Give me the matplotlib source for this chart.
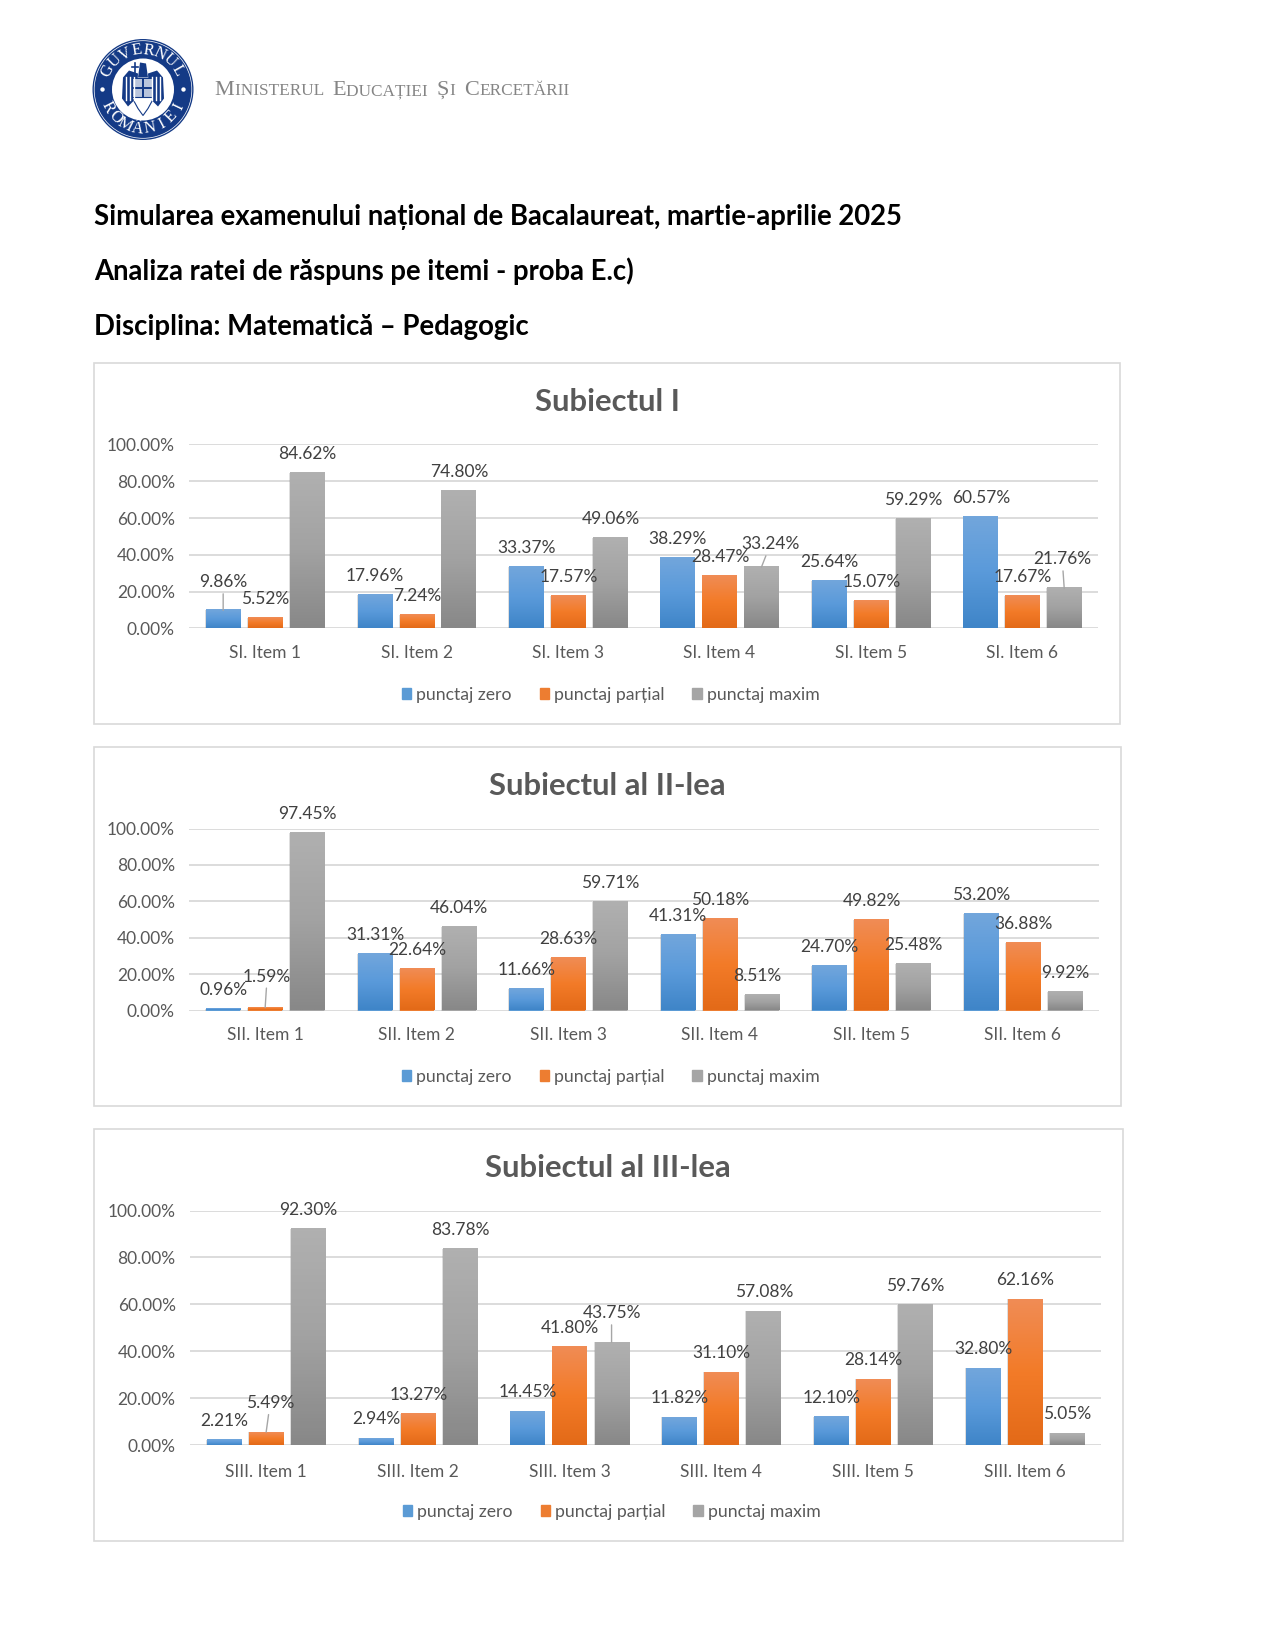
import numpy as np
import matplotlib
matplotlib.use("Agg")
import matplotlib.pyplot as plt
from matplotlib.colors import LinearSegmentedColormap
from matplotlib.patches import Circle, Polygon, Rectangle, Patch

plt.rcParams['font.family'] = ['Lato', 'Noto Sans', 'DejaVu Sans']

HEADINGS = ["Simularea examenului național de Bacalaureat, martie-aprilie 2025",
            "Analiza ratei de răspuns pe itemi - proba E.c)",
            "Disciplina: Matematică – Pedagogic"]
SERIES = ["punctaj zero", "punctaj parțial", "punctaj maxim"]

# Subiectul I
s1_items = ["SI. Item 1", "SI. Item 2", "SI. Item 3", "SI. Item 4", "SI. Item 5", "SI. Item 6"]
s1_zero = [9.86, 17.96, 33.37, 38.29, 25.64, 60.57]
s1_partial = [5.52, 7.24, 17.57, 28.47, 15.07, 17.67]
s1_max = [84.62, 74.80, 49.06, 33.24, 59.29, 21.76]

# Subiectul al II-lea
s2_items = ["SII. Item 1", "SII. Item 2", "SII. Item 3", "SII. Item 4", "SII. Item 5", "SII. Item 6"]
s2_zero = [0.96, 31.31, 11.66, 41.31, 24.70, 53.20]
s2_partial = [1.59, 22.64, 28.63, 50.18, 49.82, 36.88]
s2_max = [97.45, 46.04, 59.71, 8.51, 25.48, 9.92]

# Subiectul al III-lea
s3_items = ["SIII. Item 1", "SIII. Item 2", "SIII. Item 3", "SIII. Item 4", "SIII. Item 5", "SIII. Item 6"]
s3_zero = [2.21, 2.94, 14.45, 11.82, 12.10, 32.80]
s3_partial = [5.49, 13.27, 41.80, 31.10, 28.14, 62.16]
s3_max = [92.30, 83.78, 43.75, 57.08, 59.76, 5.05]

W, H = 1275, 1650
GRID = "#d9d9d9"
TEXT = "#595959"
LABEL = "#404040"
LEADER = "#a6a6a6"
NAVY = "#143a86"

GRADS = [LinearSegmentedColormap.from_list("b", ["#72a6dc", "#5a9ada", "#3f85c8"]),
         LinearSegmentedColormap.from_list("o", ["#f08c55", "#f37b28", "#e36a18"]),
         LinearSegmentedColormap.from_list("g", ["#b0b0b0", "#a2a2a2", "#888888"])]
SOLID = ["#5b9bd5", "#ed7d31", "#a5a5a5"]
ramp = np.linspace(0, 1, 64).reshape(-1, 1)

fig = plt.figure(figsize=(W / 100, H / 100), dpi=100, facecolor="white")
bg = fig.add_axes([0, 0, 1, 1])
bg.set_xlim(0, W)
bg.set_ylim(H, 0)
bg.axis("off")


def runs_text(x, y, runs, color):
    # small caps: every run has its own size, placed after the previous one
    rend = fig.canvas.get_renderer()
    for s, size in runs:
        t = bg.text(x, y, s, fontsize=size, color=color, va="baseline", ha="left",
                    family="Liberation Serif")
        box = t.get_window_extent(rend)
        x += box.width + 0.5
        if s.endswith(" "):
            x += 4


def arc_text(text, cx, cy, r, start, step, top=True):
    # letters of the seal, one by one along the ring
    for i, ch in enumerate(text):
        a = np.radians(start + step * i)
        x = cx + r * np.cos(a)
        y = cy - r * np.sin(a)
        rot = np.degrees(a) - 90 if top else np.degrees(a) + 90
        bg.text(x, y, ch, fontsize=12, color="white", ha="center", va="center",
                rotation=rot, rotation_mode="anchor", family="Liberation Serif")


def draw_logo(cx, cy):
    bg.add_patch(Circle((cx, cy), 50.5, fc=NAVY, ec="none"))
    bg.add_patch(Circle((cx, cy), 48.8, fc="none", ec="white", lw=0.5))
    bg.add_patch(Circle((cx, cy), 31, fc="white", ec="none"))
    arc_text("GUVERNUL", cx, cy, 39.5, 152, -17.5, True)
    arc_text("ROMÂNIEI", cx, cy, 39.5, 207, 18.2, False)
    for sx in (-1, 1):
        bg.add_patch(Circle((cx + sx * 40.5, cy), 2.2, fc="white", ec="none"))
    # eagle, very rough: wings with feathers, head, shield, tail
    for sx in (-1, 1):
        wing = [(5, -16), (14, -19), (20, -12), (21, 9), (15, 17), (10, 12), (6, 3)]
        bg.add_patch(Polygon([(cx + sx * a, cy + b) for a, b in wing], fc=NAVY, ec="none"))
        for fx in (9, 13, 17):
            bg.plot([cx + sx * fx, cx + sx * fx], [cy - 13, cy + 10], color="white", lw=1.0)
    bg.add_patch(Polygon([(cx - 3, cy - 27), (cx + 3, cy - 26), (cx + 5, cy - 12), (cx - 5, cy - 12)], fc=NAVY, ec="none"))
    bg.plot([cx - 8, cx - 8], [cy - 27, cy - 14], color=NAVY, lw=1.2)
    bg.plot([cx - 11, cx - 5], [cy - 23, cy - 23], color=NAVY, lw=1.2)
    bg.add_patch(Rectangle((cx - 11, cy - 12), 22, 20, fc=NAVY, ec="none"))
    for a, b in [(-10, -11), (1, -11), (-10, -1), (1, -1)]:
        bg.add_patch(Rectangle((cx + a, cy + b), 9, 8, fc="#b9c5dc", ec="none"))
    bg.add_patch(Polygon([(cx - 11, cy + 8), (cx + 11, cy + 8), (cx + 5, cy + 19), (cx, cy + 26), (cx - 5, cy + 19)],
                         fc="white", ec=NAVY, lw=0.8))


draw_logo(143, 89.5)
big, small = 16, 12.4
runs_text(214.5, 95, [("M", big), ("INISTERUL ", small), ("E", big), ("DUCAȚIEI ", small),
                      ("Ș", big), ("I ", small), ("C", big), ("ERCETĂRII", small)], "#858585")

for text, y in zip(HEADINGS, [217, 271, 327]):
    bg.text(94, y, text, fontsize=19.85, fontweight="bold", color="black", va="center", ha="left")


def chart(frame, plot, title, title_y, legend_xy, xpad, items, zero, partial, maximum, offsets, leaders):
    fx0, fy0, fx1, fy1 = frame
    px0, py100, px1, py0 = plot
    bg.add_patch(Rectangle((fx0, fy0), fx1 - fx0, fy1 - fy0, fc="white", ec=GRID, lw=1.2))
    bg.text((fx0 + fx1) / 2, title_y, title, fontsize=22.3, fontweight="bold", color=TEXT,
            ha="center", va="center")

    ax = fig.add_axes([px0 / W, 1 - py0 / H, (px1 - px0) / W, (py0 - py100) / H])
    ax.patch.set_alpha(0)
    for sp in ax.spines.values():
        sp.set_visible(False)
    ax.set_axisbelow(True)
    ax.grid(axis="y", color=GRID, lw=1.3)
    ax.tick_params(length=0, labelsize=12.5, labelcolor=TEXT)

    x = np.arange(len(items))
    width = 0.225
    step = 0.277
    for s, vals in enumerate([zero, partial, maximum]):
        xs = x + (s - 1) * step
        # soft shadow, then the bar, then its gradient clipped to the bar
        ax.bar(xs, vals, width + 0.01, color="#7f7f7f", alpha=0.25, zorder=2, clip_on=False)
        bars = ax.bar(xs, vals, width, color=SOLID[s], zorder=3)
        for rect in bars:
            ax.imshow(ramp, extent=[rect.get_x(), rect.get_x() + rect.get_width(), 0, rect.get_height()],
                      origin="upper", aspect="auto", cmap=GRADS[s], zorder=3.1)
        for i, v in enumerate(vals):
            dx, dy = offsets.get((i, s), (0.5, 19))
            kw = {}
            if (i, s) in leaders:
                kw["arrowprops"] = dict(arrowstyle="-", color=LEADER, lw=1, shrinkA=0.5, shrinkB=0)
            ax.annotate(f"{v:.2f}%", xy=(xs[i], v), xytext=(dx, dy), textcoords="offset pixels",
                        ha="center", va="center", fontsize=12.5, color=LABEL, zorder=5,
                        annotation_clip=False, **kw)

    ax.set_xlim(-0.5, len(items) - 0.5)
    ax.set_ylim(0, 100)
    ax.set_yticks([0, 20, 40, 60, 80, 100])
    ax.set_yticklabels([f"{t:.2f}%" for t in [0, 20, 40, 60, 80, 100]])
    ax.tick_params(axis="y", pad=10.5)
    ax.set_xticks(x)
    ax.set_xticklabels(items)
    ax.tick_params(axis="x", pad=xpad)

    handles = [Patch(color=c) for c in SOLID]
    ax.legend(handles, SERIES, loc="center", bbox_to_anchor=legend_xy, bbox_transform=bg.transData,
              ncol=3, frameon=False, fontsize=12.7, labelcolor=TEXT, handlelength=0.55,
              handleheight=0.6, handletextpad=0.25, columnspacing=1.6)
    return ax


chart((94, 363, 1120, 724), (189.4, 444.5, 1098, 628.5), "Subiectul I", 402, (610.5, 695), 12,
      s1_items, s1_zero, s1_partial, s1_max,
      {(0, 0): (0, 28), (3, 2): (9, 23), (5, 2): (-2, 29)}, [(0, 0), (3, 2), (5, 2)])
chart((94, 747, 1121, 1106), (189.4, 828.5, 1098.5, 1010.5), "Subiectul al II-lea", 786, (610.5, 1077), 12,
      s2_items, s2_zero, s2_partial, s2_max,
      {(0, 1): (2, 31), (3, 2): (-4, 19)}, [(0, 1)])
chart((94, 1129, 1122.5, 1541), (190.3, 1210.5, 1100.5, 1445), "Subiectul al III-lea", 1168, (611.5, 1512), 13.5,
      s3_items, s3_zero, s3_partial, s3_max,
      {(0, 1): (4, 29), (2, 2): (0, 29)}, [(0, 1), (2, 2)])

fig.savefig("out.png", dpi=100)
